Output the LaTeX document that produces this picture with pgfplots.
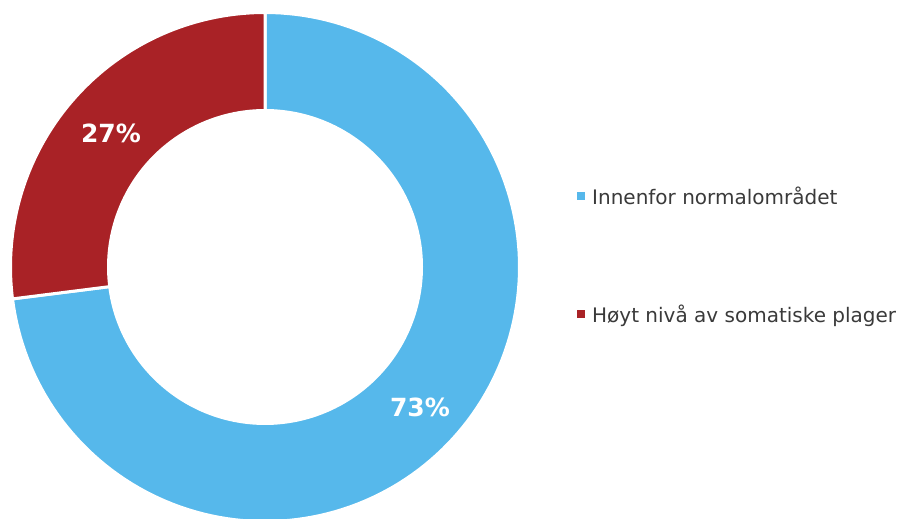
\documentclass[border=0pt]{standalone}
\usepackage{pgfplots}
\pgfplotsset{compat=1.18}
\usepackage{fontspec}
\setmainfont{DejaVu Sans}
\definecolor{cblue}{HTML}{56B8EB}
\definecolor{cred}{HTML}{A92226}
\definecolor{ctext}{HTML}{3A3A3A}
\def\va{73}
\def\vb{27}
\begin{document}
\begin{tikzpicture}
\pgfmathsetmacro{\aend}{90-3.6*\va}
\pgfmathsetmacro{\bend}{\aend-3.6*\vb}
\begin{axis}[
  hide axis, scale only axis,
  width=903bp, height=519bp,
  xmin=-265, xmax=638, ymin=-252, ymax=267,
  clip=true,
  legend style={at={(axis cs:309,8.5)}, anchor=west, draw=none, fill=none,
    font=\fontsize{20bp}{24bp}\selectfont\color{ctext},
    nodes={inner sep=0pt, text height=15bp, text depth=4bp},
    column sep=7bp, row sep=99bp},
  legend cell align=left,
  legend image code/.code={\fill[#1, draw=none] (0bp,-1bp) rectangle (8bp,7bp);},
]
\addplot[fill=cblue, draw=white, line width=3bp, domain=90:\aend, samples=150, variable=\t]
  ({254.5*cos(t)},{254.5*sin(t)}) -- (axis cs:0,0) -- cycle;
\addlegendentry{Innenfor normalområdet}
\addplot[fill=cred, draw=white, line width=3bp, domain=\aend:\bend, samples=80, variable=\t]
  ({254.5*cos(t)},{254.5*sin(t)}) -- (axis cs:0,0) -- cycle;
\addlegendentry{Høyt nivå av somatiske plager}
\addplot[fill=white, draw=none, domain=0:360, samples=200, forget plot]
  ({158*cos(x)},{158*sin(x)});
\node[text=white, font=\fontsize{25bp}{29bp}\selectfont\bfseries] at (axis cs:-154,134) {27\%};
\node[text=white, font=\fontsize{25bp}{29bp}\selectfont\bfseries] at (axis cs:155,-140) {73\%};
\end{axis}
\pgfresetboundingbox
\path (current axis.south west) rectangle (current axis.north east);
\end{tikzpicture}
\end{document}
